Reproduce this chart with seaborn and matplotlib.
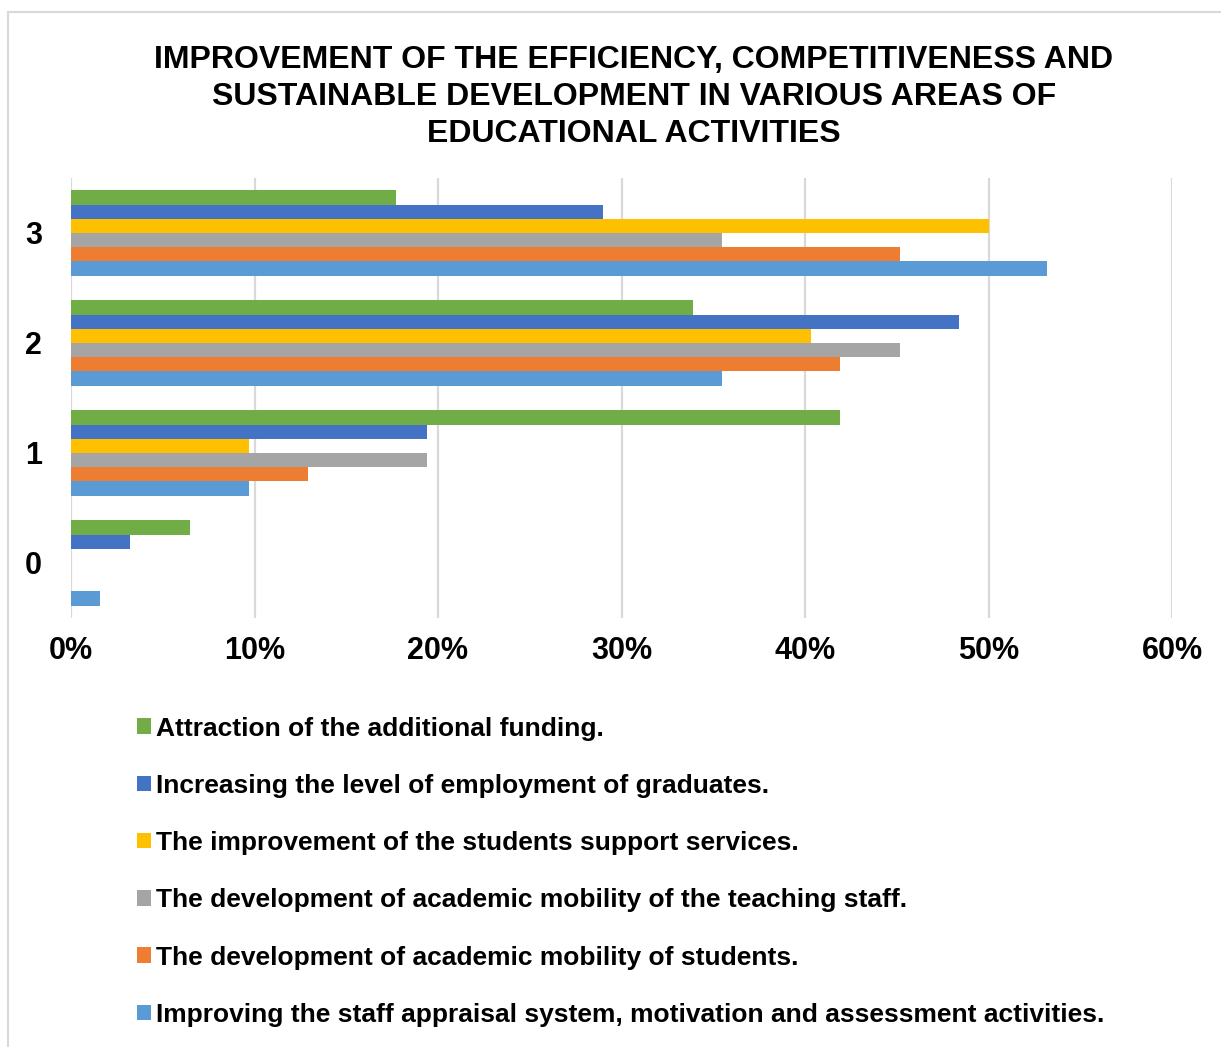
import matplotlib
matplotlib.use("Agg")
import matplotlib.pyplot as plt
from matplotlib.lines import Line2D
import pandas as pd
import seaborn as sns

# Survey score levels (rows of the chart, top to bottom)
levels = ["3", "2", "1", "0"]

# Areas of educational activity (series)
areas = [
    "Attraction of the additional funding.",
    "Increasing the level of employment of graduates.",
    "The improvement of the students support services.",
    "The development of academic mobility of the teaching staff.",
    "The development of academic mobility of students.",
    "Improving the staff appraisal system, motivation and assessment activities.",
]

# Share of respondents (%) per level, in the order of `levels`
funding = [17.7, 33.9, 41.9, 6.5]
employment = [29.0, 48.4, 19.4, 3.2]
support_services = [50.0, 40.3, 9.7, 0.0]
staff_mobility = [35.5, 45.2, 19.4, 0.0]
student_mobility = [45.2, 41.9, 12.9, 0.0]
appraisal = [53.2, 35.5, 9.7, 1.6]

series = [funding, employment, support_services, staff_mobility,
          student_mobility, appraisal]
colors = ["#70AD47", "#4472C4", "#FFC000", "#A5A5A5", "#ED7D31", "#5B9BD5"]

x_ticks = [0, 10, 20, 30, 40, 50, 60]
x_tick_labels = ["0%", "10%", "20%", "30%", "40%", "50%", "60%"]

title = ("IMPROVEMENT OF THE EFFICIENCY, COMPETITIVENESS AND\n"
         "SUSTAINABLE DEVELOPMENT IN VARIOUS AREAS OF\n"
         "EDUCATIONAL ACTIVITIES")

rows = []
for area, values in zip(areas, series):
    for level, v in zip(levels, values):
        rows.append({"level": level, "area": area, "share": v})
df = pd.DataFrame(rows)

sns.set_theme(style="white")
plt.rcParams["font.family"] = ["Liberation Sans", "DejaVu Sans"]
plt.rcParams["font.weight"] = "bold"
plt.rcParams["text.color"] = "black"
plt.rcParams["xtick.color"] = "black"
plt.rcParams["ytick.color"] = "black"

fig = plt.figure(figsize=(12.21, 10.47), dpi=100)
ax = fig.add_axes([71 / 1221, 1 - 618 / 1047, (1172 - 71) / 1221, 440 / 1047])

sns.barplot(data=df, y="level", x="share", hue="area", order=levels,
            hue_order=areas, palette=colors, orient="h", width=0.775,
            errorbar=None, saturation=1, ax=ax, linewidth=0)

ax.set_xlim(0, 60)
ax.set_ylim(3.5, -0.5)
ax.set_xticks(x_ticks)
ax.set_xticklabels(x_tick_labels, fontsize=22, fontweight="bold")
for lab in ax.get_yticklabels():
    lab.set_fontsize(22)
    lab.set_fontweight("bold")
ax.tick_params(axis="x", pad=13, length=0)
ax.tick_params(axis="y", pad=21, length=0)
ax.set_xlabel("")
ax.set_ylabel("")
ax.grid(axis="x", color="#D9D9D9", linewidth=1.6)
ax.set_axisbelow(True)
for s in ax.spines.values():
    s.set_visible(False)

handles, labels = ax.get_legend_handles_labels()
ax.get_legend().remove()
fig.legend(handles, labels, loc="upper left",
           bbox_to_anchor=(126 / 1221, 1 - 706 / 1047), frameon=False,
           prop={"size": 19, "weight": "bold"}, handlelength=0.53,
           handleheight=0.53, handletextpad=0.2, labelspacing=1.26,
           borderaxespad=0)

fig.text(634 / 1221, 1 - 45 / 1047, title, ha="center", va="top",
         fontsize=23, fontweight="bold", linespacing=1.31)

# Chart frame
fig.add_artist(Line2D([8 / 1221, 1.0], [1 - 12 / 1047, 1 - 12 / 1047],
                      transform=fig.transFigure, color="#D9D9D9", linewidth=1.5))
fig.add_artist(Line2D([8 / 1221, 8 / 1221], [0.0, 1 - 12 / 1047],
                      transform=fig.transFigure, color="#D9D9D9", linewidth=1.5))

fig.savefig("out.png", dpi=100, facecolor="white")
